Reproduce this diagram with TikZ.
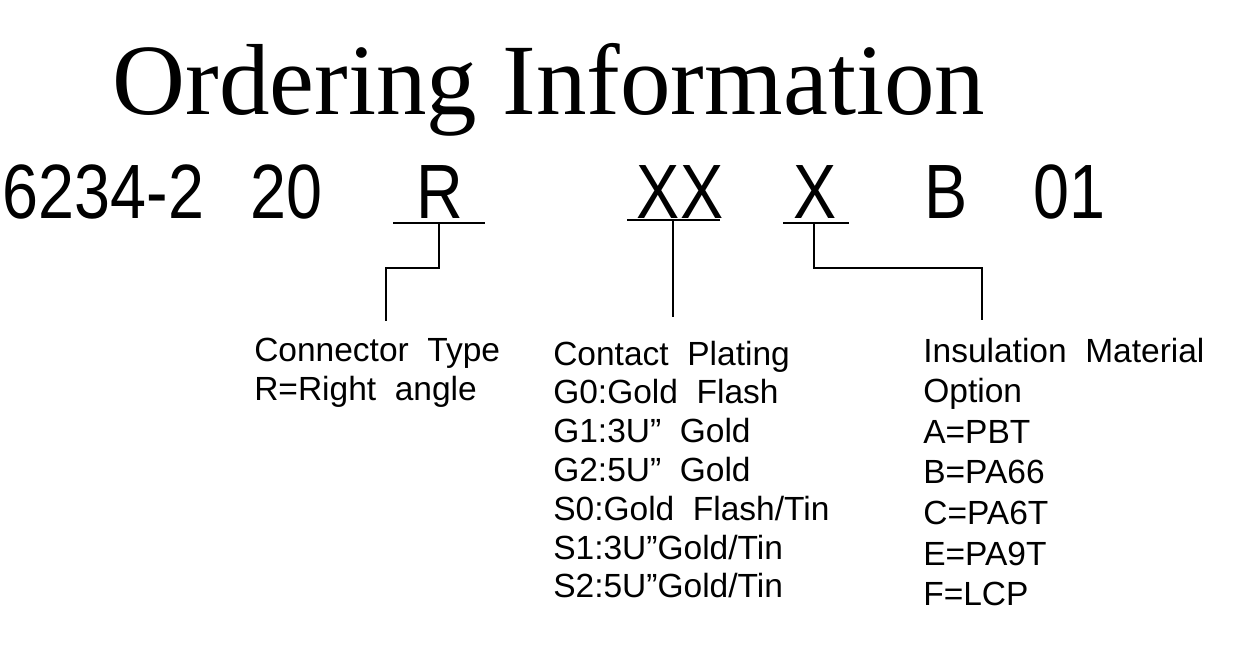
\documentclass[tikz,border=0pt]{standalone}
\usepackage{fontspec}
\setmainfont{Liberation Serif}
\newfontfamily\codefont[FakeStretch=0.84]{Liberation Sans}
\newfontfamily\notefont{Liberation Sans}
\usetikzlibrary{calc}

\begin{document}
\begin{tikzpicture}[x=1pt, y=-1pt, line width=2.6pt,
  code/.style={font=\codefont\fontsize{77}{80}\selectfont, anchor=base, inner sep=0pt},
  note/.style={font=\notefont\fontsize{33.5}{38}\selectfont, anchor=base west, inner sep=0pt}]
\useasboundingbox (0,0) rectangle (1241,663);
% title
\node[anchor=base, inner sep=0pt, font=\fontsize{101}{110}\selectfont] (title) at (549,115) {Ordering Information};
% part number
\node[code] (pn)    at (103.5,218) {6234-2};
\node[code] (pins)  at (286.5,218) {20};
\node[code] (typ)   at (439.5,218) {R};
\node[code] (plat)  at (680,218)   {XX};
\node[code] (ins)   at (815,218)   {X};
\node[code] (col)   at (946.5,218) {B};
\node[code] (pack)  at (1069.5,218) {01};
% underlines
\draw (393,223) -- (485,223);
\draw (627,220) -- (720,220);
\draw (783,223) -- (849,223);
% leaders
\coordinate (rtap)    at (439,223);
\coordinate (typetop) at (386,321);
\coordinate (xxtap)   at (673,220);
\coordinate (plattop) at (673,317);
\coordinate (xtap)    at (814,223);
\coordinate (instop)  at (982,320);
\draw (rtap) -- ++(0,45) -| (typetop);
\draw (xxtap) -- (plattop);
\draw (xtap) -- ++(0,45) -| (instop);
% notes
\foreach \t [count=\i from 0] in {Connector~ Type, R=Right~ angle}
  \node[note] (typenote\i) at (253,361+39*\i) {\t};
\foreach \t [count=\i from 0] in {Contact~ Plating, G0:Gold~ Flash, G1:3U”~ Gold, G2:5U”~ Gold,
    S0:Gold~ Flash/Tin, S1:3U”Gold/Tin, S2:5U”Gold/Tin}
  \node[note] (platnote\i) at (552,365+38.8*\i) {\t};
\foreach \t [count=\i from 0] in {Insulation~ Material, Option, A=PBT, B=PA66, C=PA6T, E=PA9T, F=LCP}
  \node[note] (insnote\i) at (922,362+40.6*\i) {\t};
\end{tikzpicture}
\end{document}
